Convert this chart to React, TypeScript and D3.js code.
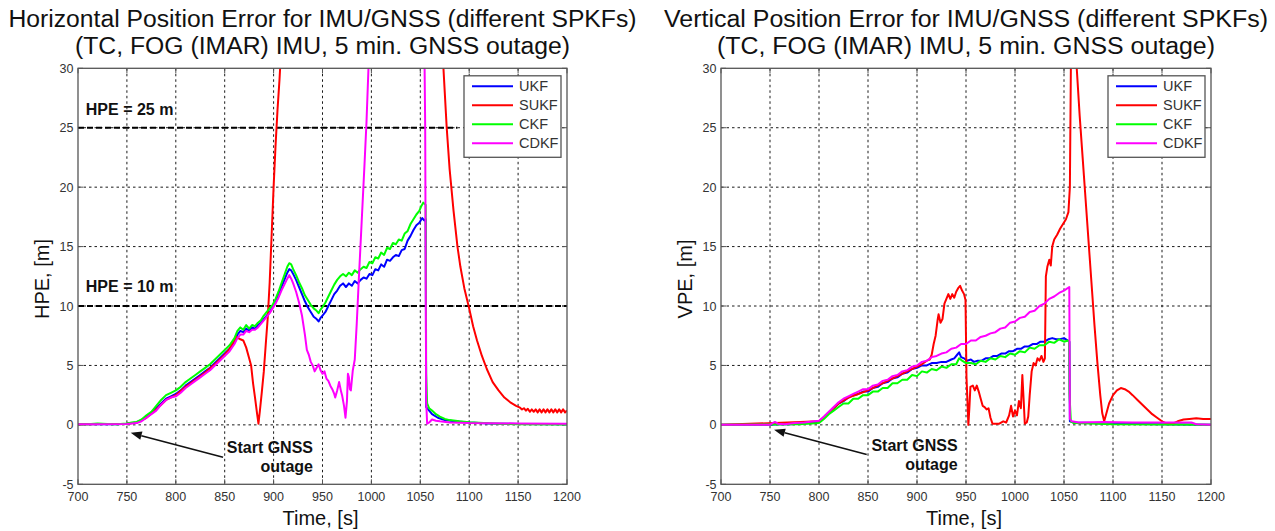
import React from 'react';
import * as d3 from 'd3';

type P = [number, number];

const timeTicks = [700, 750, 800, 850, 900, 950, 1000, 1050, 1100, 1150, 1200];
const valueTicks = [-5, 0, 5, 10, 15, 20, 25, 30];
const seriesNames = ['UKF', 'SUKF', 'CKF', 'CDKF'];
const seriesColors = ['#0000ff', '#ff0000', '#00ff00', '#ff00ff'];

const titleLine1 = ['Horizontal Position Error for IMU/GNSS (different SPKFs)', 'Vertical Position Error for IMU/GNSS (different SPKFs)'];
const titleLine2 = '(TC, FOG (IMAR) IMU, 5 min. GNSS outage)';
const yLabels = ['HPE, [m]', 'VPE, [m]'];
const xLabel = 'Time, [s]';

// ---- Horizontal position error ----
const hpeUKF: P[] = [
  [700, 0.05], [720, 0.08], [740, 0.05], [750, 0.1], [755, 0.15], [760, 0.2], [765, 0.4], [770, 0.7], [775, 1.0], [780, 1.4],
  [785, 1.8], [790, 2.2], [795, 2.4], [800, 2.6], [805, 2.9], [810, 3.3], [815, 3.6], [820, 3.9], [825, 4.2], [830, 4.5],
  [835, 4.8], [840, 5.2], [845, 5.6], [850, 6.0], [855, 6.4], [860, 7.0], [863, 7.6], [866, 7.9], [869, 7.8], [872, 8.1],
  [875, 7.9], [878, 8.2], [881, 8.1], [884, 8.4], [887, 8.6], [890, 8.9], [893, 9.2], [896, 9.5], [899, 9.9], [902, 10.3],
  [905, 10.9], [908, 11.6], [911, 12.2], [914, 12.8], [916, 13.1], [918, 13.0], [920, 12.7], [923, 12.2], [926, 11.6], [929, 11.0],
  [932, 10.4], [935, 9.9], [938, 9.5], [941, 9.1], [944, 8.9], [946, 8.7], [948, 9.0], [950, 9.2], [953, 9.5], [956, 10.0],
  [959, 10.5], [962, 11.0], [965, 11.3], [968, 11.7], [971, 11.9], [974, 11.6], [977, 11.9], [980, 11.7], [983, 12.1], [986, 11.9],
  [989, 12.2], [992, 12.4], [995, 12.3], [998, 12.7], [1001, 12.6], [1004, 13.1], [1007, 13.0], [1010, 13.5], [1013, 13.3], [1016, 13.9],
  [1019, 13.8], [1022, 14.1], [1025, 14.3], [1028, 14.2], [1031, 14.7], [1034, 14.8], [1037, 15.5], [1040, 15.9], [1043, 16.4], [1046, 16.8],
  [1049, 17.0], [1052, 17.4], [1054, 17.2], [1055.5, 17.3], [1056, 1.5], [1058, 1.3], [1062, 0.9], [1068, 0.6], [1075, 0.4], [1085, 0.3],
  [1100, 0.2], [1120, 0.12], [1150, 0.08], [1200, 0.05],
];
const hpeSUKF: P[] = [
  [700, 0.05], [750, 0.1], [760, 0.2], [770, 0.6], [780, 1.3], [790, 2.1], [800, 2.5], [810, 3.2], [820, 3.8], [830, 4.4],
  [840, 5.1], [850, 5.9], [855, 6.4], [860, 7.1], [862, 7.4], [866, 7.2], [869, 7.1], [872, 6.5], [875, 5.6], [877, 5.0],
  [879, 3.5], [881, 2.3], [883, 1.0], [884.5, 0.1], [886, 1.2], [888, 2.8], [890, 4.5], [892, 6.8], [894, 9.0], [896, 12.0],
  [898, 16.0], [900, 20.0], [902, 23.5], [904, 26.5], [906, 29.0], [908, 32], [910, 38], [1070, 38], [1073, 31], [1075, 28],
  [1077, 25], [1080, 21.5], [1084, 18], [1088, 15], [1091, 13.3], [1095, 11.5], [1100, 9.8], [1104, 8.3], [1108, 7.1], [1113, 5.8],
  [1118, 4.7], [1124, 3.6], [1130, 2.9], [1136, 2.3], [1142, 1.9], [1148, 1.6], [1152, 1.45], [1154, 1.3], [1156, 1.4], [1158, 1.2],
  [1160, 1.35], [1162, 1.1], [1164, 1.3], [1166, 1.1], [1168, 1.3], [1170, 1.05], [1172, 1.3], [1174, 1.05], [1176, 1.3], [1178, 1.05],
  [1180, 1.3], [1182, 1.05], [1184, 1.3], [1186, 1.05], [1188, 1.3], [1190, 1.05], [1192, 1.3], [1194, 1.05], [1196, 1.3], [1198, 1.05],
  [1200, 1.2],
];
const hpeCKF: P[] = [
  [700, 0.05], [710, 0.05], [720, 0.12], [730, 0.08], [740, 0.05], [750, 0.12], [755, 0.2], [760, 0.25], [765, 0.45], [770, 0.8],
  [775, 1.1], [780, 1.6], [785, 2.1], [790, 2.5], [795, 2.7], [800, 2.9], [805, 3.2], [810, 3.6], [815, 3.9], [820, 4.2],
  [825, 4.5], [830, 4.8], [835, 5.1], [840, 5.5], [845, 5.9], [850, 6.3], [855, 6.7], [860, 7.3], [863, 7.9], [866, 8.2],
  [869, 8.0], [872, 8.4], [875, 8.1], [878, 8.4], [881, 8.3], [884, 8.6], [887, 8.8], [890, 9.2], [893, 9.5], [896, 9.8],
  [899, 10.1], [902, 10.6], [905, 11.2], [908, 11.9], [911, 12.6], [914, 13.3], [916, 13.6], [918, 13.5], [920, 13.1], [923, 12.6],
  [926, 12.0], [929, 11.5], [932, 10.9], [935, 10.5], [938, 10.1], [941, 9.8], [944, 9.6], [946, 9.4], [948, 9.7], [950, 9.9],
  [953, 10.3], [956, 10.8], [959, 11.3], [962, 11.8], [965, 12.2], [968, 12.5], [971, 12.7], [974, 12.5], [977, 12.8], [980, 12.6],
  [983, 13.0], [986, 12.8], [989, 13.1], [992, 13.3], [995, 13.2], [998, 13.7], [1001, 13.6], [1004, 14.1], [1007, 14.0], [1010, 14.5],
  [1013, 14.3], [1016, 14.9], [1019, 14.8], [1022, 15.3], [1025, 15.2], [1028, 15.6], [1031, 15.5], [1034, 16.1], [1037, 16.3], [1040, 16.9],
  [1043, 17.3], [1046, 17.7], [1049, 18.0], [1051, 18.4], [1053, 18.7], [1055.5, 18.5], [1056, 4.3], [1057, 1.8], [1059, 1.4], [1062, 1.2],
  [1066, 0.9], [1070, 0.7], [1075, 0.5], [1080, 0.4], [1090, 0.3], [1100, 0.22], [1115, 0.15], [1130, 0.1], [1150, 0.05], [1200, 0.03],
];
const hpeCDKF: P[] = [
  [700, 0.05], [750, 0.08], [755, 0.12], [760, 0.15], [765, 0.3], [770, 0.6], [775, 0.9], [780, 1.2], [785, 1.7], [790, 2.1],
  [795, 2.3], [800, 2.4], [805, 2.7], [810, 3.1], [815, 3.4], [820, 3.7], [825, 4.0], [830, 4.3], [835, 4.6], [840, 5.0],
  [845, 5.4], [850, 5.8], [855, 6.2], [860, 6.8], [863, 7.3], [866, 7.6], [869, 7.6], [872, 7.9], [875, 7.8], [878, 8.0],
  [881, 8.0], [884, 8.2], [887, 8.5], [890, 8.8], [893, 9.1], [896, 9.4], [899, 9.8], [902, 10.2], [905, 10.7], [908, 11.3],
  [911, 11.8], [914, 12.3], [916, 12.6], [918, 12.3], [920, 11.9], [923, 11.2], [926, 10.3], [929, 9.2], [932, 7.6], [934, 6.3],
  [936, 5.9], [938, 5.3], [940, 5.0], [942, 4.5], [944, 4.8], [946, 5.1], [948, 4.6], [950, 4.3], [952, 4.5], [954, 3.9],
  [956, 3.7], [958, 3.3], [960, 3.0], [962, 2.6], [963, 2.3], [965, 2.9], [967, 3.6], [969, 2.8], [970, 2.5], [972, 1.6],
  [973.5, 0.6], [975, 2.0], [976, 4.3], [977, 4.0], [978, 3.0], [979, 2.9], [981, 4.6], [983, 5.5], [985, 8.5], [987, 12.0],
  [990, 17.0], [993, 22.0], [995, 25.5], [997, 30], [999, 36], [1001, 42], [1053, 42], [1055, 25], [1056, 2.0], [1057, 0.1],
  [1059, 0.2], [1062, 0.45], [1066, 0.35], [1070, 0.3], [1080, 0.2], [1100, 0.15], [1150, 0.12], [1200, 0.1],
];

// ---- Vertical position error ----
const vpeUKF: P[] = [
  [700, 0], [750, 0.02], [760, 0.05], [770, 0.05], [780, 0.1], [790, 0.15], [795, 0.2], [800, 0.3], [805, 0.6], [810, 1.0],
  [815, 1.4], [820, 1.8], [825, 2.0], [830, 2.3], [835, 2.5], [840, 2.6], [845, 2.8], [850, 2.8], [855, 3.1], [860, 3.2],
  [865, 3.5], [870, 3.6], [875, 3.9], [880, 4.0], [885, 4.3], [890, 4.4], [895, 4.7], [900, 4.8], [905, 5.0], [910, 5.0],
  [915, 5.2], [920, 5.2], [925, 5.3], [930, 5.3], [935, 5.5], [938, 5.6], [941, 5.9], [943, 6.1], [945, 5.7], [948, 5.6],
  [951, 5.4], [955, 5.5], [958, 5.3], [962, 5.4], [966, 5.4], [970, 5.6], [974, 5.6], [978, 5.8], [982, 5.8], [986, 6.0],
  [990, 6.0], [994, 6.2], [998, 6.2], [1002, 6.4], [1006, 6.4], [1010, 6.6], [1014, 6.6], [1018, 6.8], [1022, 6.8], [1026, 7.0],
  [1030, 7.0], [1034, 7.2], [1038, 7.3], [1042, 7.2], [1046, 7.2], [1050, 7.3], [1054, 7.1], [1055.5, 7.0], [1056, 0.3], [1060, 0.2],
  [1080, 0.15], [1100, 0.1], [1150, 0.05], [1200, 0.02],
];
const vpeSUKF: P[] = [
  [700, 0], [800, 0.3], [805, 0.6], [810, 1.0], [815, 1.4], [820, 1.8], [830, 2.3], [840, 2.6], [850, 2.9], [860, 3.3],
  [870, 3.7], [880, 4.1], [890, 4.5], [900, 4.9], [905, 5.1], [910, 5.4], [913, 5.5], [915, 5.9], [917, 6.8], [919, 7.5],
  [921, 8.8], [922, 9.3], [924, 8.6], [926, 8.9], [928, 10.2], [930, 10.6], [932, 11.0], [934, 10.6], [936, 11.0], [938, 10.7],
  [940, 11.2], [942, 11.5], [944, 11.7], [946, 11.3], [948, 11.0], [949.5, 10.5], [950.5, 4.0], [951.5, 2.0], [952.4, 0], [953.5, 1.5],
  [954.5, 3.2], [957, 3.3], [959, 2.9], [961, 3.3], [963, 2.8], [965, 2.2], [967, 1.6], [969, 1.5], [971, 1.3], [973, 1.4],
  [975, 0.6], [977, 0.1], [980, 0.1], [984, 0.1], [988, 0.3], [991, 0.2], [994, 0.8], [996, 1.6], [998, 0.7], [1000, 1.2],
  [1002, 0.8], [1004, 2.0], [1006, 1.4], [1007.5, 4.2], [1009, 1.8], [1010, 0.1], [1012, 0.2], [1013.5, 0.7], [1015, 2.5], [1017, 4.5],
  [1019, 5.2], [1021, 5.0], [1023, 5.6], [1025, 5.4], [1027, 5.8], [1029, 5.3], [1030.5, 5.6], [1031.5, 12.5], [1033, 13.3], [1035, 13.9],
  [1036.5, 13.4], [1038, 15.0], [1040, 15.6], [1043, 16.0], [1046, 16.5], [1049, 16.9], [1052, 17.3], [1054.5, 17.9], [1056, 20], [1057, 30],
  [1058, 40], [1062, 40], [1063, 30], [1066, 26], [1069, 22.5], [1072, 19], [1075, 15.5], [1078, 12], [1081, 8.5], [1084, 5.3],
  [1087, 2.5], [1089, 1.0], [1091, 0.3], [1093, 0.9], [1096, 1.8], [1100, 2.5], [1104, 2.9], [1108, 3.1], [1112, 3.0], [1116, 2.8],
  [1120, 2.5], [1125, 2.1], [1130, 1.7], [1135, 1.3], [1140, 0.9], [1145, 0.6], [1150, 0.3], [1155, 0.1], [1158, 0.05], [1162, 0.15],
  [1166, 0.3], [1172, 0.45], [1178, 0.5], [1185, 0.55], [1192, 0.5], [1200, 0.5],
];
const vpeCKF: P[] = [
  [700, 0], [780, 0.05], [800, 0.15], [805, 0.5], [810, 0.9], [815, 1.2], [820, 1.5], [825, 1.8], [830, 1.8], [835, 2.2],
  [840, 2.2], [845, 2.5], [850, 2.5], [855, 2.8], [860, 2.8], [865, 3.1], [870, 3.1], [875, 3.5], [880, 3.5], [885, 3.8],
  [890, 3.8], [895, 4.2], [900, 4.1], [905, 4.5], [910, 4.4], [915, 4.7], [920, 4.6], [925, 4.9], [930, 4.8], [935, 5.1],
  [940, 5.1], [943, 5.6], [946, 5.4], [950, 5.2], [955, 5.2], [960, 5.1], [965, 5.4], [970, 5.3], [975, 5.6], [980, 5.5],
  [985, 5.8], [990, 5.7], [995, 6.0], [1000, 5.9], [1005, 6.2], [1010, 6.1], [1015, 6.5], [1020, 6.4], [1025, 6.7], [1030, 6.7],
  [1035, 7.0], [1040, 6.9], [1045, 7.2], [1050, 7.0], [1054, 7.1], [1055.3, 7.0], [1055.6, 2.6], [1057, 0.3], [1060, 0.15], [1100, 0.05],
  [1200, 0],
];
const vpeCDKF: P[] = [
  [700, 0], [750, 0.02], [755, 0.25], [758, 0.1], [765, 0.05], [775, 0.15], [785, 0.2], [795, 0.3], [800, 0.35], [805, 0.7],
  [810, 1.1], [815, 1.5], [820, 1.9], [825, 2.2], [830, 2.4], [835, 2.6], [840, 2.8], [845, 3.0], [850, 3.0], [855, 3.3],
  [860, 3.4], [865, 3.7], [870, 3.8], [875, 4.1], [880, 4.2], [885, 4.5], [890, 4.6], [895, 4.9], [900, 5.0], [905, 5.3],
  [910, 5.4], [915, 5.7], [920, 5.8], [925, 6.0], [930, 6.1], [935, 6.4], [940, 6.5], [945, 6.8], [950, 6.8], [955, 7.1],
  [960, 7.1], [965, 7.4], [970, 7.5], [975, 7.7], [980, 7.8], [985, 8.1], [990, 8.2], [995, 8.6], [1000, 8.7], [1005, 9.0],
  [1010, 9.1], [1015, 9.5], [1020, 9.6], [1025, 10.0], [1030, 10.2], [1035, 10.6], [1040, 10.8], [1045, 11.1], [1050, 11.3], [1055.4, 11.6],
  [1056, 0.5], [1058, 0.3], [1065, 0.2], [1090, 0.25], [1120, 0.2], [1150, 0.2], [1180, 0.2], [1185, 0.05], [1200, 0.02],
];

const hpeSeries = [hpeUKF, hpeSUKF, hpeCKF, hpeCDKF];
const vpeSeries = [vpeUKF, vpeSUKF, vpeCKF, vpeCDKF];

// reference lines (HPE only): value, start time, end time, label, label time, label value
const hpeRefValues = [25, 10];
const hpeRefEnds = [1088, 1200];
const hpeRefLabels = ['HPE = 25 m', 'HPE = 10 m'];
const hpeRefLabelValues = [26.1, 11.15];

// annotation: arrow start/tip, text anchor
const annoText = ['Start GNSS', 'outage'];
const annoArrowFrom: P[] = [[848.3, -2.73], [848.7, -2.5]];
const annoArrowTo: P[] = [[753.9, -0.67], [754.1, -0.42]];
const annoTextPos: P[] = [[940.3, -2.33], [941.5, -2.16]];
const annoLine2Value = [-3.99, -3.76];

const FONT = '"Liberation Sans", Arial, Helvetica, sans-serif';

const layouts = [
  { x0: 78, x1: 567, cx: 322.5, t1w: 628, t2w: 495 },
  { x0: 721, x1: 1211, cx: 966, t1w: 604, t2w: 498 },
];
const Y_TOP = 68.3;
const Y_BOT = 484.3;

function Panel({ idx }: { idx: number }) {
  const L = layouts[idx];
  const series = idx === 0 ? hpeSeries : vpeSeries;
  const x = d3.scaleLinear().domain([700, 1200]).range([L.x0, L.x1]);
  const y = d3.scaleLinear().domain([-5, 30]).range([Y_BOT, Y_TOP]);
  const line = d3.line<P>().x((d) => x(d[0])).y((d) => y(d[1]));
  const clipId = `clip${idx}`;
  const legX = L.x1 - 103;
  const legY = Y_TOP + 7.5;
  const ax = annoArrowFrom[idx];
  const at = annoArrowTo[idx];
  const ang = Math.atan2(y(at[1]) - y(ax[1]), x(at[0]) - x(ax[0]));
  const tipX = x(at[0]);
  const tipY = y(at[1]);
  const ah = 11;
  const aw = 4.2;
  const bx = tipX - ah * Math.cos(ang);
  const by = tipY - ah * Math.sin(ang);
  const head = `M${tipX},${tipY} L${bx + aw * Math.sin(ang)},${by - aw * Math.cos(ang)} L${bx - aw * Math.sin(ang)},${by + aw * Math.cos(ang)} Z`;

  return (
    <g>
      <defs>
        <clipPath id={clipId}>
          <rect x={L.x0} y={Y_TOP} width={L.x1 - L.x0} height={Y_BOT - Y_TOP} />
        </clipPath>
      </defs>
      <rect x={L.x0} y={Y_TOP} width={L.x1 - L.x0} height={Y_BOT - Y_TOP} fill="#fff" />
      {/* titles */}
      <text x={L.cx} y={27} textAnchor="middle" fontFamily={FONT} fontSize={23.5} fill="#111"
        textLength={L.t1w} lengthAdjust="spacingAndGlyphs">{titleLine1[idx]}</text>
      <text x={L.cx} y={54} textAnchor="middle" fontFamily={FONT} fontSize={23.5} fill="#111"
        textLength={L.t2w} lengthAdjust="spacingAndGlyphs">{titleLine2}</text>
      {/* grid */}
      {timeTicks.slice(1, -1).map((t) => (
        <line key={'gx' + t} x1={x(t)} x2={x(t)} y1={Y_TOP} y2={Y_BOT} stroke="#000" strokeWidth={0.9} strokeDasharray="2.5,3" />
      ))}
      {valueTicks.slice(1, -1).map((v) => (
        <line key={'gy' + v} x1={L.x0} x2={L.x1} y1={y(v)} y2={y(v)} stroke="#000" strokeWidth={0.9} strokeDasharray="2.5,3" />
      ))}
      {/* ticks */}
      {timeTicks.map((t) => (
        <g key={'tx' + t}>
          <line x1={x(t)} x2={x(t)} y1={Y_BOT} y2={Y_BOT - 5} stroke="#555" strokeWidth={1} />
          <line x1={x(t)} x2={x(t)} y1={Y_TOP} y2={Y_TOP + 5} stroke="#555" strokeWidth={1} />
          <text x={x(t)} y={500.5} textAnchor="middle" fontFamily={FONT} fontSize={12.5} fill="#333">{t}</text>
        </g>
      ))}
      {valueTicks.map((v) => (
        <g key={'ty' + v}>
          <line x1={L.x0} x2={L.x0 + 5} y1={y(v)} y2={y(v)} stroke="#555" strokeWidth={1} />
          <line x1={L.x1} x2={L.x1 - 5} y1={y(v)} y2={y(v)} stroke="#555" strokeWidth={1} />
          <text x={L.x0 - 4.5} y={y(v) + 4.5} textAnchor="end" fontFamily={FONT} fontSize={12.5} fill="#333">{v}</text>
        </g>
      ))}
      {/* reference lines */}
      {idx === 0 && hpeRefValues.map((v, i) => (
        <g key={'ref' + v}>
          <line x1={x(700)} x2={x(hpeRefEnds[i])} y1={y(v)} y2={y(v)} stroke="#000" strokeWidth={1.8} strokeDasharray="6,3" />
          <text x={x(708)} y={y(hpeRefLabelValues[i])} fontFamily={FONT} fontWeight="bold" fontSize={16} fill="#111">{hpeRefLabels[i]}</text>
        </g>
      ))}
      {/* data */}
      <g clipPath={`url(#${clipId})`}>
        {series.map((s, i) => (
          <path key={seriesNames[i]} d={line(s) || ''} fill="none" stroke={seriesColors[i]} strokeWidth={2} strokeLinejoin="round" />
        ))}
      </g>
      {/* annotation */}
      <line x1={x(ax[0])} y1={y(ax[1])} x2={bx} y2={by} stroke="#111" strokeWidth={1.6} />
      <path d={head} fill="#111" />
      <text x={x(annoTextPos[idx][0])} y={y(annoTextPos[idx][1])} textAnchor="end" fontFamily={FONT} fontWeight="bold" fontSize={16} fill="#111">{annoText[0]}</text>
      <text x={x(annoTextPos[idx][0])} y={y(annoLine2Value[idx])} textAnchor="end" fontFamily={FONT} fontWeight="bold" fontSize={16} fill="#111">{annoText[1]}</text>
      {/* legend */}
      <rect x={legX} y={legY} width={97} height={81.5} fill="#fff" stroke="#555" strokeWidth={1.3} />
      {seriesNames.map((n, i) => (
        <g key={'leg' + n}>
          <line x1={legX + 8} x2={legX + 49} y1={legY + 10.5 + i * 19} y2={legY + 10.5 + i * 19} stroke={seriesColors[i]} strokeWidth={2} />
          <text x={legX + 55} y={legY + 15.5 + i * 19} fontFamily={FONT} fontSize={14.5} fill="#333">{n}</text>
        </g>
      ))}
      {/* frame */}
      <rect x={L.x0} y={Y_TOP} width={L.x1 - L.x0} height={Y_BOT - Y_TOP} fill="none" stroke="#555" strokeWidth={1.3} />
      {/* axis labels */}
      <text x={(L.x0 + L.x1) / 2 - 2} y={525} textAnchor="middle" fontFamily={FONT} fontSize={20} fill="#111">{xLabel}</text>
      <text transform={`translate(${L.x0 - 29},279) rotate(-90)`} textAnchor="middle" fontFamily={FONT} fontSize={20} fill="#111">{yLabels[idx]}</text>
    </g>
  );
}

export default function App() {
  return (
    <svg width={1275} height={531} style={{ position: 'absolute', left: 0, top: 0, background: '#fff' }}>
      <rect x={0} y={0} width={1275} height={531} fill="#fff" />
      <Panel idx={0} />
      <Panel idx={1} />
    </svg>
  );
}
